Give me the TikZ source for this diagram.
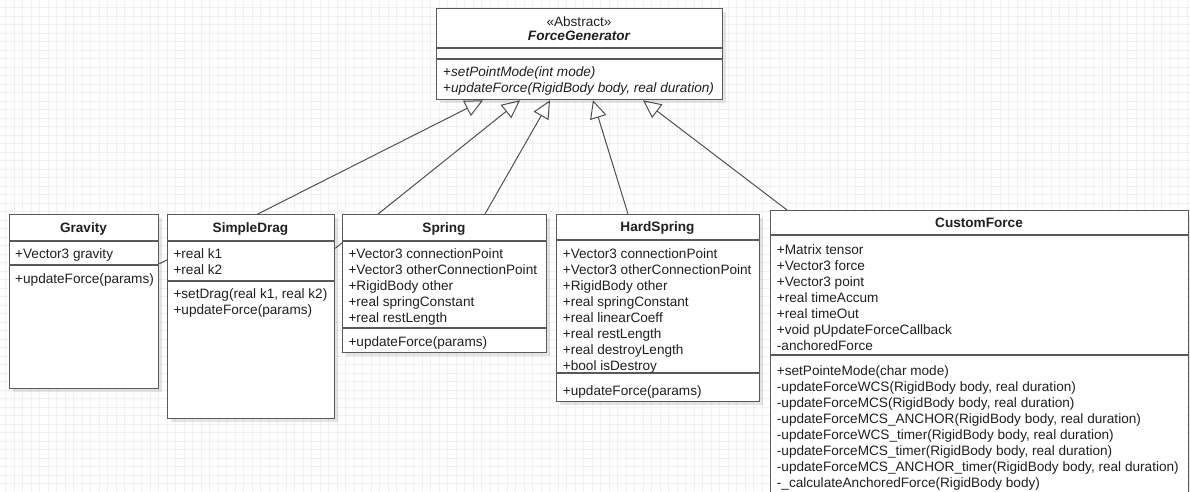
\documentclass[tikz,border=0pt]{standalone}
\usepackage{fontspec}
\setmainfont{Liberation Sans}
\usetikzlibrary{arrows.meta,shadows}
\definecolor{gridc}{HTML}{F1F1F1}
\definecolor{edgec}{HTML}{595959}
\definecolor{linkc}{HTML}{505050}
\definecolor{ink}{HTML}{202020}
\newcommand\umlsize{\fontsize{13.6}{16}\selectfont}
\pgfdeclarelayer{grid}
\pgfdeclarelayer{links}
\pgfsetlayers{grid,links,main}

\begin{document}
\begin{tikzpicture}[x=1pt,y=-1pt,
  classbox/.style={draw=edgec, line width=1.3pt, fill=white, rectangle, inner sep=0pt,
    anchor=north west,
    drop shadow={shadow xshift=3pt, shadow yshift=-3pt, fill=black, opacity=0.10}},
  divider/.style={draw=edgec, line width=1.3pt},
  classname/.style={font=\umlsize\bfseries, text=ink, inner sep=0pt,
    text height=9.8pt, text depth=0pt},
  members/.style={font=\umlsize, text=ink, inner sep=0pt, anchor=north west, align=left},
  realizes/.style={draw=linkc, line width=1pt,
    -{Triangle[length=18pt, width=17pt, fill=white]}},
  gridline/.style={draw=gridc, line width=0.8pt}]

\useasboundingbox (0,0) rectangle (1190,492);

% background grid
\begin{pgfonlayer}{grid}
  \fill[white] (0,0) rectangle (1190,492);
  \foreach \gx in {5.7,14.2,...,1190} \draw[gridline] (\gx,0) -- (\gx,492);
  \foreach \gy in {7.5,16,...,492} \draw[gridline] (0,\gy) -- (1190,\gy);
\end{pgfonlayer}

\begin{scope}
\clip (0,0) rectangle (1190,492);

% class boxes
\node[classbox, minimum width=286pt, minimum height=91pt] (fg) at (436,8) {};
\node[classbox, minimum width=149pt, minimum height=174pt] (grav) at (9,214) {};
\node[classbox, minimum width=167pt, minimum height=204pt] (drag) at (167,214) {};
\node[classbox, minimum width=204pt, minimum height=138pt] (spring) at (342,214) {};
\node[classbox, minimum width=203pt, minimum height=187pt] (hard) at (556,214) {};
\node[classbox, minimum width=418pt, minimum height=330pt] (custom) at (770,210) {};

% compartment dividers
\draw[divider] (fg.west |- 0,48) -- (fg.east |- 0,48);
\draw[divider] (fg.west |- 0,59) -- (fg.east |- 0,59);
\draw[divider] (grav.west |- 0,241) -- (grav.east |- 0,241);
\draw[divider] (grav.west |- 0,265) -- (grav.east |- 0,265);
\draw[divider] (drag.west |- 0,241) -- (drag.east |- 0,241);
\draw[divider] (drag.west |- 0,281) -- (drag.east |- 0,281);
\draw[divider] (spring.west |- 0,241) -- (spring.east |- 0,241);
\draw[divider] (spring.west |- 0,328) -- (spring.east |- 0,328);
\draw[divider] (hard.west |- 0,240) -- (hard.east |- 0,240);
\draw[divider] (hard.west |- 0,373) -- (hard.east |- 0,373);
\draw[divider] (custom.west |- 0,235) -- (custom.east |- 0,235);
\draw[divider] (custom.west |- 0,355) -- (custom.east |- 0,355);

% ForceGenerator
\node[font=\umlsize, text=ink, inner sep=0pt, text height=9.8pt, text depth=0pt]
  (fgst) at (579,22) {«Abstract»};
\node[classname, font=\umlsize\bfseries\itshape] (fgname) at (579,36) {ForceGenerator};
\node[members] (fgops) at (443,64.7)
  {\strut+\textit{setPointMode(int mode)}\\
   +\textit{updateForce(RigidBody body, real duration)}};

% Gravity
\node[classname] (gravname) at (83.5,227.5) {Gravity};
\node[members] (gravattr) at (15,246.7) {\strut+Vector3 gravity};
\node[members] (gravops) at (15,271.7) {\strut+updateForce(params)};

% SimpleDrag
\node[classname] (dragname) at (250.5,227.5) {SimpleDrag};
\node[members] (dragattr) at (173.3,246.7) {\strut+real k1\\+real k2};
\node[members] (dragops) at (173.3,287.3)
  {\strut+setDrag(real k1, real k2)\\+updateForce(params)};

% Spring
\node[classname] (springname) at (444,227.5) {Spring};
\node[members] (springattr) at (348.3,246.7)
  {\strut+Vector3 connectionPoint\\
   +Vector3 otherConnectionPoint\\
   +RigidBody other\\
   +real springConstant\\
   +real restLength};
\node[members] (springops) at (348.3,334.7) {\strut+updateForce(params)};

% HardSpring
\node[classname] (hardname) at (657.5,227) {HardSpring};
\node[members] (hardattr) at (562.7,246.7)
  {\strut+Vector3 connectionPoint\\
   +Vector3 otherConnectionPoint\\
   +RigidBody other\\
   +real springConstant\\
   +real linearCoeff\\
   +real restLength\\
   +real destroyLength\\
   +bool isDestroy};
\node[members] (hardops) at (562.7,383.7) {\strut+updateForce(params)};

% CustomForce
\node[classname] (customname) at (979,222.5) {CustomForce};
\node[members] (customattr) at (776.7,242.7)
  {\strut+Matrix tensor\\
   +Vector3 force\\
   +Vector3 point\\
   +real timeAccum\\
   +real timeOut\\
   +void pUpdateForceCallback\\
   -anchoredForce};
\node[members] (customops) at (776.7,363.7)
  {\strut+setPointeMode(char mode)\\
   -updateForceWCS(RigidBody body, real duration)\\
   -updateForceMCS(RigidBody body, real duration)\\
   -updateForceMCS\_ANCHOR(RigidBody body, real duration)\\
   -updateForceWCS\_timer(RigidBody body, real duration)\\
   -updateForceMCS\_timer(RigidBody body, real duration)\\
   -updateForceMCS\_ANCHOR\_timer(RigidBody body, real duration)\\
   -\_calculateAnchoredForce(RigidBody body)};
\end{scope}

% generalization links, drawn beneath the boxes
\begin{pgfonlayer}{links}
  \draw[realizes] (grav.east |- 0,263.7) -- (fg.south -| 483,0);
  \draw[realizes] (drag.east |- 0,248.3) -- (fg.south -| 520,0);
  \draw[realizes] (spring.north -| 485,0) -- (fg.south -| 550,0);
  \draw[realizes] (hard.north -| 628,0) -- (fg.south -| 593,0);
  \draw[realizes] (custom.north -| 787,0) -- (fg.south -| 643,0);
\end{pgfonlayer}
\end{tikzpicture}
\end{document}
